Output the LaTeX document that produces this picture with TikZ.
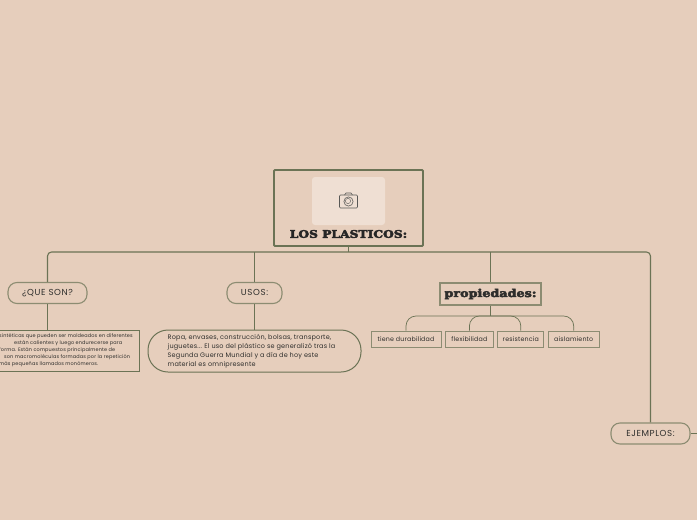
\documentclass[tikz,border=0pt]{standalone}
\usepackage{fontspec}
\usepackage{tikz}
\usetikzlibrary{arrows.meta, positioning, calc}
\setmainfont{Poppins}
\newfontfamily\slabfont[FakeBold=4.5,FakeStretch=1.18]{DejaVu Serif Bold}
\newfontfamily\pillfont[LetterSpace=7]{Poppins}
\newfontfamily\notefont[LetterSpace=3]{Poppins}
\definecolor{pagebg}{HTML}{E6CEBC}
\definecolor{olive}{HTML}{6B7355}
\definecolor{olivelt}{HTML}{8C8C72}
\definecolor{inktxt}{HTML}{2E2E2C}
\definecolor{photobg}{HTML}{EFDFD3}

\begin{document}
\begin{tikzpicture}[
    x=1pt, y=-1pt,
    node distance=3.5pt,
    link/.style={draw=olive, line width=1.1pt},
    twig/.style={draw=olive, line width=0.7pt},
    mainbox/.style={draw=olive, line width=1.8pt, rounded corners=1pt, minimum width=149pt, minimum height=76pt},
    photo/.style={fill=photobg, rounded corners=3pt, minimum width=73pt, minimum height=48pt},
    pill/.style={draw=olivelt, line width=1.1pt, rounded corners=9pt, minimum height=21pt, text=inktxt, font=\pillfont\fontsize{8.7pt}{9pt}\selectfont},
    headbox/.style={draw=olivelt, line width=1.3pt, minimum width=101pt, minimum height=22pt, text=inktxt, font=\slabfont\fontsize{10.8pt}{11pt}\selectfont},
    subbox/.style={draw=olivelt, line width=0.9pt, minimum height=16pt, inner sep=0pt, text=inktxt, font=\notefont\fontsize{6.3pt}{7pt}\selectfont},
    notepill/.style={draw=olive, line width=1pt, rounded corners=20pt, minimum width=213pt, minimum height=42pt, text=inktxt, align=left, font=\notefont\fontsize{6.5pt}{9pt}\selectfont},
    notebox/.style={draw=olive, line width=0.7pt, text=inktxt, minimum width=185.5pt, minimum height=41pt},
    ]
  \useasboundingbox (0,0) rectangle (697,520);
  \fill[pagebg] (0,0) rectangle (697,520);

  % central topic
  \node[mainbox] (main) at (348.5,208) {};
  \node[photo] (pic) at (348.5,201) {};
  \node[inner sep=0pt, text=black!85, font=\slabfont\fontsize{10.4pt}{11pt}\selectfont] (title) at (348.5,234) {LOS PLASTICOS:};
  \draw[inktxt!80, line width=0.6pt, rounded corners=1pt]
    ($(pic.center)+(-9,7)$) rectangle ($(pic.center)+(9,-6)$);
  \draw[inktxt!80, line width=0.6pt] ($(pic.center)+(-4,-6)$) -- ++(1.5,-2) -- ++(5,0) -- ++(1.5,2);
  \draw[inktxt!80, line width=0.6pt] ($(pic.center)+(0,0.5)$) circle (4.6);
  \draw[inktxt!80, line width=0.4pt] ($(pic.center)+(-0.5,0)$) circle (2.6);

  % branches
  \node[pill, minimum width=79pt, text depth=1pt] (qson) at (47.5,293) {¿QUE SON?};
  \node[pill, minimum width=55pt, text depth=1pt] (usos) at (254.5,293) {USOS:};
  \node[headbox] (prop) at (490.5,294) {propiedades:};
  \node[pill, minimum width=79pt, text depth=1pt] (ejem) at (650.5,433.5) {EJEMPLOS:};

  \node[notebox] (qnote) at (47,350.5) {};
  \node[anchor=west, inner sep=0pt, align=left, text=inktxt, font=\notefont\fontsize{4.95pt}{7pt}\selectfont] (qtext) at (-1,350.5)
    {sintéticas que pueden ser moldeados en diferentes\\
     \hspace*{15pt}están calientes y luego endurecerse para\\
     forma. Están compuestos principalmente de\\
     \hspace*{5pt}son macromoléculas formadas por la repetición\\
     más pequeñas llamados monómeros.};
  \node[notepill] (unote) at (254.5,351) {};
  \node[anchor=west, inner sep=0pt, align=left, text=inktxt, font=\notefont\fontsize{6.5pt}{9pt}\selectfont] (utext) at (167.5,351.5)
    {Ropa, envases, construcción, bolsas, transporte,\\
     juguetes... El uso del plástico se generalizó tras la\\
     Segunda Guerra Mundial y a día de hoy este\\
     material es omnipresente};

  \node[subbox, minimum width=70pt] (tiene) at (406,339) {tiene durabilidad};
  \node[subbox, minimum width=48pt, right=of tiene] (flex) {flexibilidad};
  \node[subbox, minimum width=46pt, right=of flex] (resi) {resistencia};
  \node[subbox, minimum width=51pt, right=of resi] (aisl) {aislamiento};

  \coordinate (bus) at (348.5,252);
  \coordinate (fork) at (490.5,316);
  \coordinate (edge) at (697,433.5);

  \draw[link] (main.south) -- (bus);
  \draw[link, rounded corners=4pt] (qson.north) |- (bus) -| (ejem.north);
  \draw[link] (usos.north) -- (usos.north |- bus);
  \draw[link] (prop.north) -- (prop.north |- bus);
  \draw[link] (ejem.east) -- (edge);
  \draw[twig] (qson.south) -- (qson.south |- qnote.north);
  \draw[twig] (usos.south) -- (unote.north);
  \draw[twig] (prop.south) -- (fork);
  \draw[twig, rounded corners=10pt] (fork) -| (tiene.north);
  \draw[twig, rounded corners=10pt] (fork) -| (flex.north);
  \draw[twig, rounded corners=10pt] (fork) -| (resi.north);
  \draw[twig, rounded corners=10pt] (fork) -| (aisl.north);
\end{tikzpicture}
\end{document}
